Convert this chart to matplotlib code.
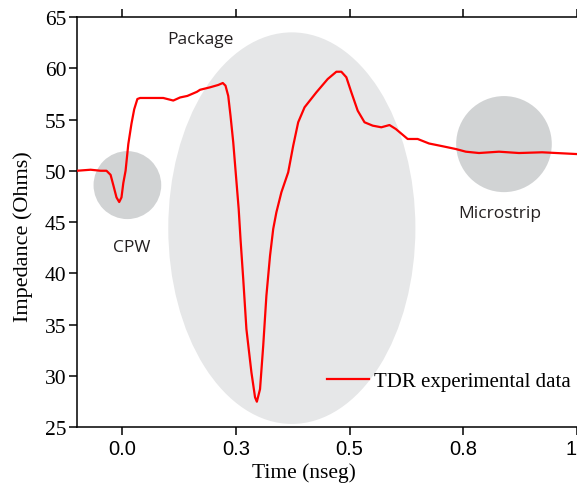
import matplotlib.pyplot as plt
from matplotlib.patches import Ellipse

# TDR measurement (time in ns, impedance in ohms)
time_ns = [-0.100, -0.070, -0.048, -0.035, -0.026, -0.020, -0.013, -0.007, -0.002,
           0.002, 0.007, 0.013, 0.020, 0.026, 0.033, 0.039, 0.061, 0.090, 0.112,
           0.127, 0.143, 0.164, 0.171, 0.193, 0.211, 0.221, 0.227, 0.233, 0.238,
           0.244, 0.250, 0.256, 0.260, 0.266, 0.273, 0.284, 0.292, 0.296, 0.303,
           0.310, 0.317, 0.325, 0.332, 0.339, 0.350, 0.365, 0.376, 0.387, 0.401,
           0.427, 0.452, 0.471, 0.482, 0.493, 0.504, 0.518, 0.533, 0.551, 0.570,
           0.588, 0.602, 0.628, 0.650, 0.675, 0.705, 0.734, 0.756, 0.785, 0.829,
           0.873, 0.924, 1.000]
impedance = [50.0, 50.1, 50.0, 50.0, 49.6, 48.6, 47.4, 46.95, 47.4,
             48.8, 50.0, 52.6, 54.6, 56.0, 57.0, 57.1, 57.1, 57.1, 56.85,
             57.15, 57.3, 57.7, 57.9, 58.14, 58.37, 58.56, 58.3, 57.3, 55.37,
             52.78, 49.52, 46.27, 43.34, 39.44, 34.56, 30.34, 27.9, 27.47, 28.7,
             32.93, 37.81, 41.71, 44.32, 45.95, 47.9, 49.85, 52.44, 54.73, 56.19,
             57.65, 58.95, 59.66, 59.66, 59.12, 57.65, 55.86, 54.73, 54.4, 54.24,
             54.46, 54.07, 53.1, 53.1, 52.66, 52.39, 52.12, 51.86, 51.73, 51.86,
             51.73, 51.8, 51.63]

x_ticks = [0.0, 0.25, 0.5, 0.75, 1.0]
x_tick_labels = ["0.0", "0.3", "0.5", "0.8", "1"]
y_ticks = [25, 30, 35, 40, 45, 50, 55, 60, 65]

# highlighted regions: (label, center x, center y, width, height, colour)
regions = [
    ("CPW", 0.011, 48.6, 0.149, 6.63, "#d1d3d4"),
    ("Package", 0.373, 44.4, 0.544, 38.2, "#e6e7e8"),
    ("Microstrip", 0.840, 52.6, 0.2105, 9.37, "#d1d3d4"),
]
label_pos = {"CPW": (0.020, 42.6), "Package": (0.171, 62.85), "Microstrip": (0.831, 45.9)}

serif = "Liberation Serif"
sans = "Liberation Sans"

fig = plt.figure(figsize=(5.77, 4.89), dpi=100)
ax = fig.add_axes([0.1334, 0.1247, 0.866, 0.8385])

for name, cx, cy, w, h, col in regions:
    ax.add_patch(Ellipse((cx, cy), w, h, facecolor=col, edgecolor="none", zorder=1))
    lx, ly = label_pos[name]
    ax.text(lx, ly, name, ha="center", va="center", fontsize=12.5,
            family="Open Sans", color="#231f20", zorder=2)

ax.plot(time_ns, impedance, color="red", lw=1.6, zorder=3,
        label="TDR experimental data")

ax.set_xlim(-0.1, 1.0)
ax.set_ylim(25, 65)
ax.set_xticks(x_ticks)
ax.set_xticklabels(x_tick_labels, fontsize=14.5, family=sans)
ax.set_yticks(y_ticks)
ax.set_yticklabels([str(v) for v in y_ticks], fontsize=15.5, family=serif)

# last tick label sits at the figure edge, keep it inside
ax.get_xticklabels()[-1].set_horizontalalignment("right")

ax.spines["right"].set_visible(False)
for s in ["left", "bottom", "top"]:
    ax.spines[s].set_linewidth(1.1)
ax.tick_params(axis="both", direction="out", length=5.5, width=1.1, pad=2)
ax.tick_params(axis="x", top=True, labeltop=False, pad=3)

ax.set_xlabel("Time (nseg)", fontsize=15.5, family=serif, labelpad=-1)
ax.xaxis.set_label_coords(0.454, -0.085)
ax.set_ylabel("Impedance (Ohms)", fontsize=16, family=serif)
ax.yaxis.set_label_coords(-0.088, 0.468)

leg = ax.legend(loc="center right", bbox_to_anchor=(0.988, 0.112), frameon=False,
                prop={"family": serif, "size": 15}, handlelength=2.0,
                handletextpad=0.25, borderaxespad=0, borderpad=0)

fig.savefig("out.png", dpi=100)
